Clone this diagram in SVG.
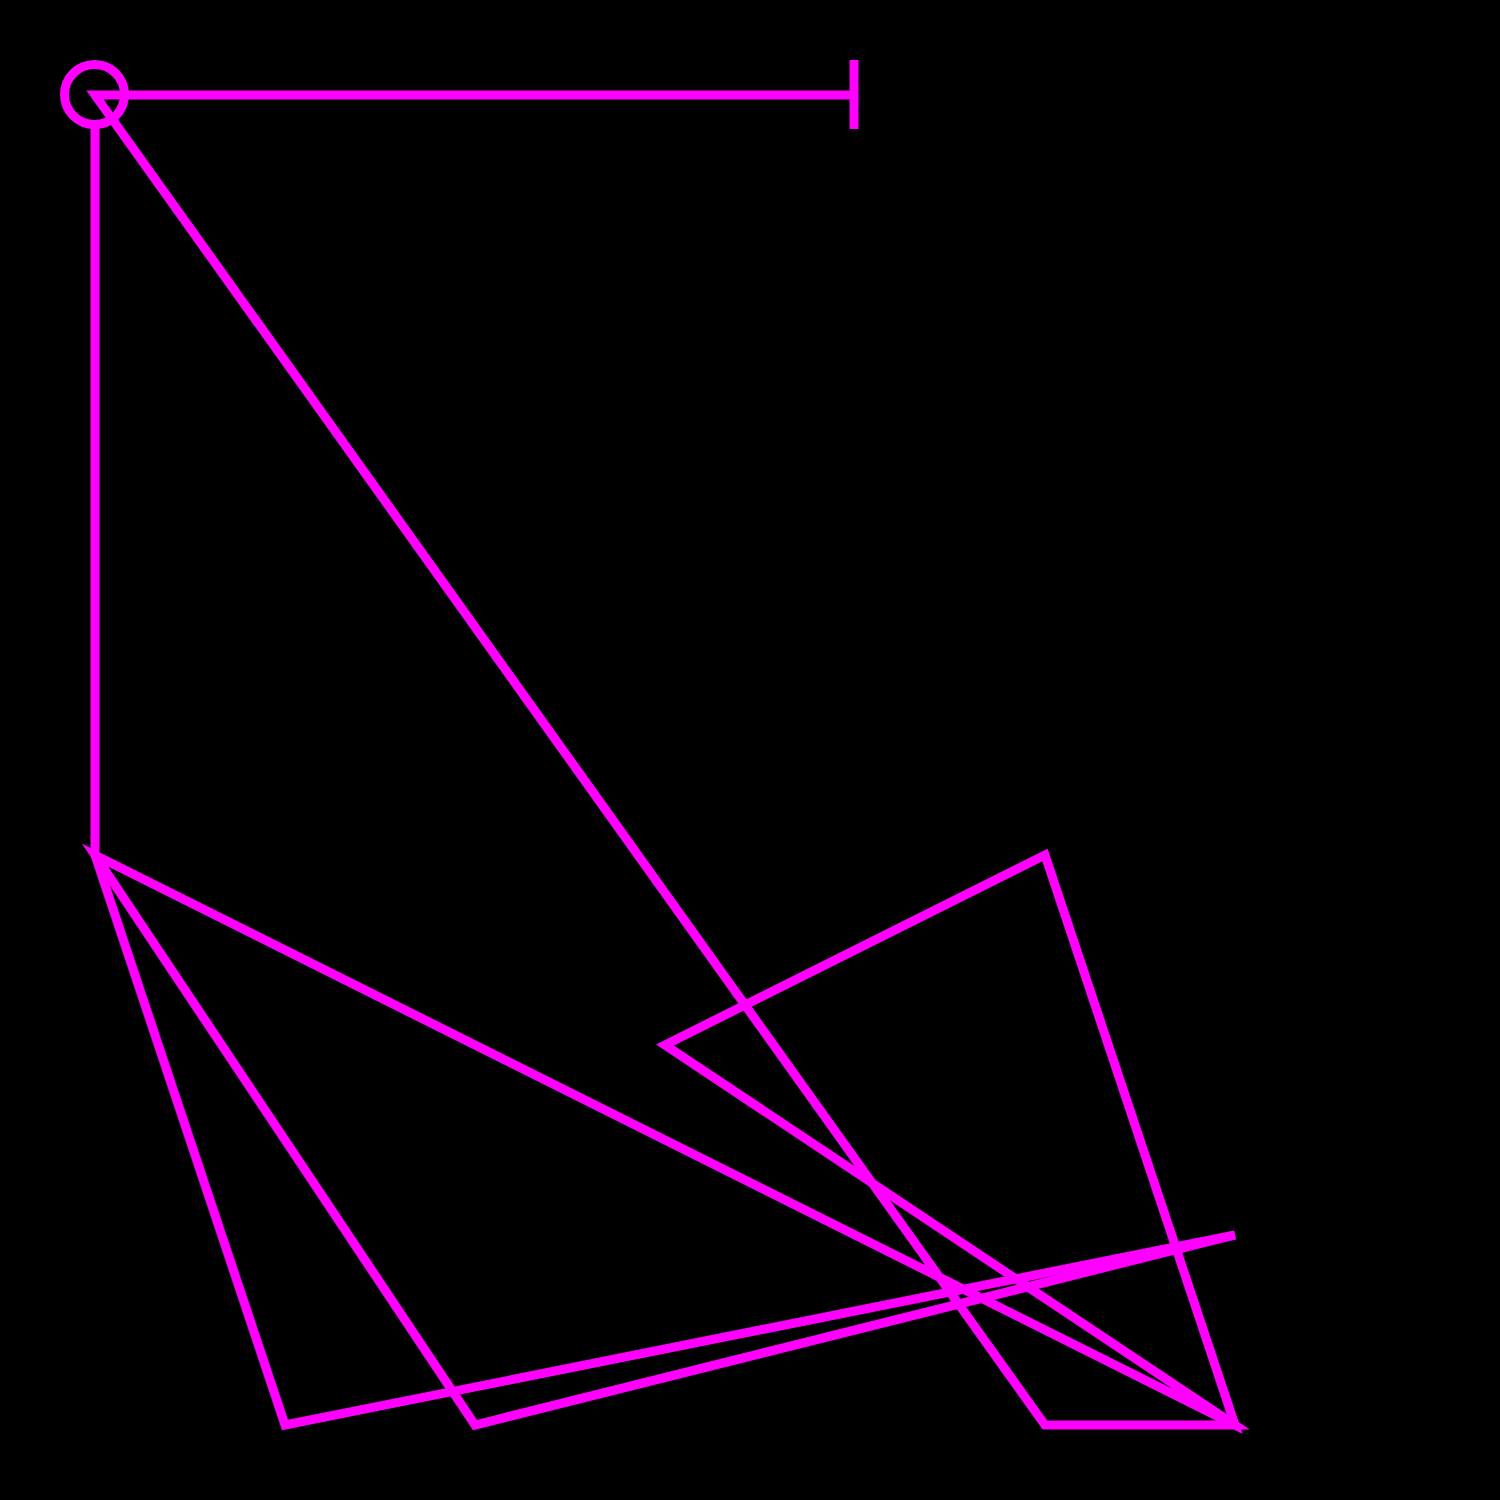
<svg xmlns="http://www.w3.org/2000/svg" width="1500" height="1500" viewBox="0 0 1500 1500">
  <style>
    .ln { fill: none; stroke: #ff00ff; stroke-width: 9; stroke-linejoin: miter; stroke-miterlimit: 4; stroke-linecap: butt; }
  </style>
  <rect width="1500" height="1500" fill="#000000"/>
  <g id="connectors">
    <path class="ln" d="M854,95 L95,95 L1045,1425 L1235,1425 L665,1045 L1045,855 L1235,1425 L95,855 L475,1425 L1235,1235"/>
    <path class="ln" d="M95,855 L285,1425 L1235,1235"/>
    <path class="ln" d="M95,124 L95,855"/>
    <path class="ln" d="M854,60 L854,129"/>
  </g>
  <g id="node-start">
    <circle class="ln" cx="94.5" cy="94.5" r="30"/>
  </g>
</svg>
